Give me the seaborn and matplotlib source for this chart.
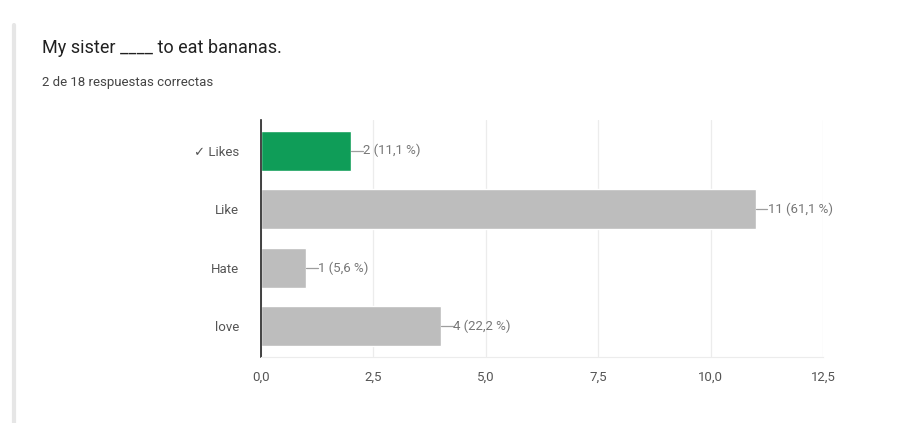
import matplotlib
matplotlib.use("Agg")
import matplotlib.pyplot as plt
import seaborn as sns
import pandas as pd

# Survey answers and their counts
answers = ["\u2713 Likes", "Like", "Hate", "love"]
counts = [2, 11, 1, 4]
pct_labels = ["11,1 %", "61,1 %", "5,6 %", "22,2 %"]
tick_values = [0, 2.5, 5, 7.5, 10, 12.5]
tick_labels = ["0,0", "2,5", "5,0", "7,5", "10,0", "12,5"]
title = "My sister ____ to eat bananas."
subtitle = "2 de 18 respuestas correctas"

GREEN = "#0f9d58"
GREY = "#bdbdbd"
FONT = ["Roboto", "DejaVu Sans"]

sns.set_style("white")
plt.rcParams["font.family"] = FONT

df = pd.DataFrame({"answer": answers, "count": counts})
palette = [GREEN] + [GREY] * (len(answers) - 1)

fig = plt.figure(figsize=(9.12, 4.23), dpi=100)
ax = fig.add_axes([0.2862, 0.156, 0.6162, 0.560])

sns.barplot(data=df, y="answer", x="count", hue="answer", palette=palette,
            legend=False, orient="h", width=0.68, ax=ax, saturation=1)

ax.set_xlim(0, 12.5)
ax.set_xticks(tick_values)
ax.set_xticklabels(tick_labels)
ax.set_xlabel("")
ax.set_ylabel("")
ax.tick_params(axis="both", length=0, colors="#555555", labelsize=9.5, pad=10)
ax.tick_params(axis="y", pad=16)
ax.grid(axis="x", color="#ececec", linewidth=0.9)
ax.set_axisbelow(True)
for side in ("top", "right"):
    ax.spines[side].set_visible(False)
ax.spines["bottom"].set_color("#ececec")
ax.spines["left"].set_color("#222222")
ax.spines["left"].set_linewidth(1.2)

# leader line plus count/percentage label at the end of each bar
for i, (c, p) in enumerate(zip(counts, pct_labels)):
    ax.plot([c, c + 0.26], [i, i], color="#9e9e9e", linewidth=0.9)
    ax.text(c + 0.27, i, f"{c} ({p})", va="center", ha="left",
            fontsize=9.5, color="#777777")

fig.text(42 / 912, 1 - 48 / 423, title, fontsize=13, color="#212121",
         va="center", ha="left")
fig.text(42 / 912, 1 - 82 / 423, subtitle, fontsize=9.5, color="#444444",
         va="center", ha="left")

# card edge on the left
fig.add_artist(plt.Line2D([14 / 912, 14 / 912], [0, 1 - 25 / 423],
                          color="#e6e6e6", linewidth=3, transform=fig.transFigure))

fig.savefig("out.png", dpi=100, facecolor="white")
